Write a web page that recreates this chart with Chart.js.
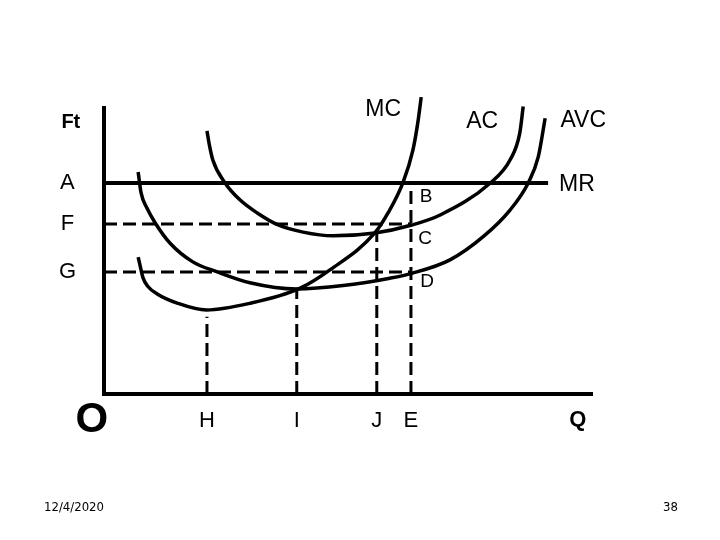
<!DOCTYPE html>
<html lang="en">
<head>
    <meta charset="UTF-8">
    <title>Ft - MC AC AVC MR</title>
    <style>
        body { margin: 0; background: #fff; }
        .slide { position: relative; width: 720px; height: 540px; }
        .foot { position: absolute; top: 499px; font: 13px "Liberation Sans Narrow", "DejaVu Sans Condensed", sans-serif; color: #000; }
    </style>
</head>
<body>
    <div class="slide">
        <canvas id="costChart" width="720" height="540"></canvas>
        <div class="foot" style="left:44px">12/4/2020</div>
        <div class="foot" style="left:663px">38</div>
    </div>

    <script src="https://cdn.jsdelivr.net/npm/chart.js"></script>
    <script>
        // curves (quantity, price), axes run 0..100
        const mcQ = [7.0, 7.5, 8.0, 9.0, 10.9, 15.0, 21.0, 29.9, 40.2, 46.3, 55.5, 58.2, 61.3, 63.3, 64.3, 65.0];
        const mcP = [47.9, 44.1, 40.6, 37.6, 35.0, 31.8, 29.4, 31.7, 37.0, 43.4, 56.3, 63.3, 74.1, 85.3, 94.8, 103.8];

        const acQ = [21.1, 21.6, 22.3, 24.8, 27.9, 31.4, 35.7, 40.8, 46.9, 55.5, 63.1, 68.9, 79.1, 83.2, 85.2, 85.9];
        const acP = [92.0, 87.0, 81.8, 73.8, 67.8, 63.3, 59.1, 56.6, 55.3, 56.3, 59.1, 62.6, 73.7, 81.8, 91.2, 100.5];

        const avcQ = [7.0, 7.6, 8.8, 10.5, 13.5, 18.2, 23.2, 29.9, 39.5, 49.0, 58.6, 63.1, 70.9, 77.7, 83.2, 86.9, 89.0, 90.4];
        const avcP = [77.6, 70.3, 65.0, 59.8, 52.8, 46.2, 42.7, 38.9, 36.7, 37.9, 40.5, 42.2, 46.9, 55.0, 64.3, 73.7, 83.0, 96.4];

        // price levels A, F, G and the MR line
        const priceTicks = [73.8, 59.4, 42.7];
        const priceLabels = ["A", "F", "G"];
        const mrEnd = 91;

        // quantities H, I, J, E and the top of each dashed drop line
        const qtyTicks = [21.1, 39.5, 55.9, 62.9];
        const qtyLabels = ["H", "I", "J", "E"];
        const dropTops = [27, 36.7, 56.7, 73.8];

        const FONT = '"Liberation Sans", Arial, Helvetica, sans-serif';

        // other text on the diagram, placed in data units
        const textLabels = [
            { text: "Ft", q: -6.8, p: 95.1, font: "bold 20px " + FONT },
            { text: "O", q: -2.5, p: -9.4, font: "bold 42px " + FONT },
            { text: "Q", q: 97.1, p: -9.1, font: "bold 22px " + FONT },
            { text: "MC", q: 57.2, p: 99.3, font: "23px " + FONT },
            { text: "AC", q: 77.5, p: 95.1, font: "23px " + FONT },
            { text: "AVC", q: 98.2, p: 95.5, font: "23px " + FONT },
            { text: "MR", q: 96.9, p: 73.1, font: "23px " + FONT },
            { text: "B", q: 66.0, p: 68.9, font: "19px " + FONT },
            { text: "C", q: 65.8, p: 54.2, font: "19px " + FONT },
            { text: "D", q: 66.2, p: 39.2, font: "19px " + FONT }
        ];

        function pts(qs, ps) {
            return qs.map((q, i) => ({ x: q, y: ps[i] }));
        }

        function curve(qs, ps) {
            return { data: pts(qs, ps), borderColor: "#000", borderWidth: 3.5, cubicInterpolationMode: "monotone", pointRadius: 0, clip: false };
        }

        function dashed(data) {
            return { data: data, borderColor: "#000", borderWidth: 3, borderDash: [13, 6], pointRadius: 0, clip: false };
        }

        const datasets = [
            curve(mcQ, mcP),
            curve(acQ, acP),
            curve(avcQ, avcP),
            { data: [{ x: 0, y: priceTicks[0] }, { x: mrEnd, y: priceTicks[0] }], borderColor: "#000", borderWidth: 4, pointRadius: 0, clip: false },
            dashed([{ x: 0, y: priceTicks[1] }, { x: qtyTicks[3], y: priceTicks[1] }]),
            dashed([{ x: 0, y: priceTicks[2] }, { x: qtyTicks[3], y: priceTicks[2] }])
        ];
        qtyTicks.forEach((q, i) => {
            datasets.push(dashed([{ x: q, y: 0 }, { x: q, y: dropTops[i] }]));
        });

        const labelPlugin = {
            id: "labelPlugin",
            afterDatasetsDraw(chart) {
                const ctx = chart.ctx;
                const xs = chart.scales.x, ys = chart.scales.y;
                ctx.save();
                ctx.fillStyle = "#000";
                ctx.textAlign = "center";
                ctx.textBaseline = "middle";
                textLabels.forEach(l => {
                    ctx.font = l.font;
                    ctx.fillText(l.text, xs.getPixelForValue(l.q), ys.getPixelForValue(l.p));
                });
                ctx.restore();
            }
        };

        new Chart(document.getElementById("costChart"), {
            type: "scatter",
            data: { datasets: datasets },
            options: {
                responsive: false,
                animation: false,
                showLine: true,
                layout: { padding: { left: 24, right: 128, top: 108, bottom: 106 } },
                plugins: { legend: { display: false }, tooltip: { enabled: false } },
                scales: {
                    x: {
                        type: "linear", min: 0, max: 100,
                        grid: { display: false, drawTicks: false },
                        border: { display: true, color: "#000", width: 4 },
                        afterBuildTicks: s => { s.ticks = qtyTicks.map(v => ({ value: v })); },
                        afterFit: s => { s.height = 40; },
                        ticks: {
                            autoSkip: false, maxRotation: 0, padding: 14, color: "#000",
                            font: { family: FONT, size: 22 },
                            callback: (v, i) => qtyLabels[i]
                        }
                    },
                    y: {
                        type: "linear", min: 0, max: 100,
                        grid: { display: false, drawTicks: false },
                        border: { display: true, color: "#000", width: 4 },
                        afterBuildTicks: s => { s.ticks = priceTicks.map(v => ({ value: v })); },
                        afterFit: s => { s.width = 80; },
                        ticks: {
                            autoSkip: false, padding: 28, crossAlign: "center", color: "#000",
                            font: { family: FONT, size: 22 },
                            callback: (v, i) => priceLabels[i]
                        }
                    }
                }
            },
            plugins: [labelPlugin]
        });
    </script>
</body>
</html>
